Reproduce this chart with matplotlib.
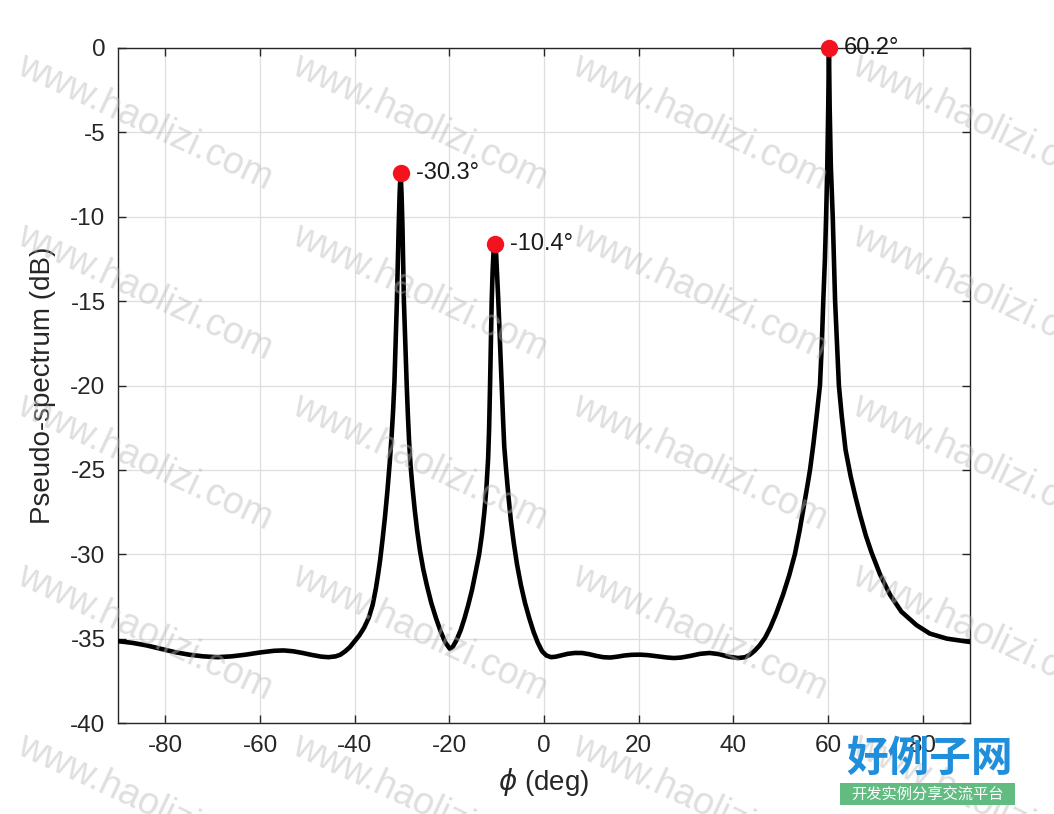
import matplotlib
matplotlib.use("Agg")
import matplotlib.pyplot as plt
from matplotlib.patches import Rectangle

plt.rcParams['font.family'] = ['Liberation Sans', 'DejaVu Sans']
plt.rcParams['mathtext.fontset'] = 'dejavusans'
plt.rcParams['axes.unicode_minus'] = False

# ---- data ----
phi_deg = [-90, -87, -84, -81, -78, -75, -72, -69, -66, -63, -60, -57, -55, -53, -51,
           -49, -47, -45.5, -44, -43, -42, -41, -40, -39, -38, -37, -36.2, -35.5,
           -35.0, -34.6, -34.1, -33.6, -33.1, -32.6, -32.2, -31.9, -31.6, -31.35,
           -31.1, -30.9, -30.7, -30.5, -30.3, -30.1, -29.9, -29.75, -29.6, -29.3,
           -29.0, -28.75, -28.5, -28.2, -27.8, -27.3, -26.8, -26.2, -25.5, -24.7,
           -23.8, -22.8, -21.8, -20.8, -19.9, -19.3, -18.5, -17.6, -16.8, -16.0,
           -15.2, -14.4, -13.7, -13.1, -12.6, -12.15, -11.8, -11.6, -11.42, -11.25,
           -11.05, -10.85, -10.65, -10.4, -10.15, -9.95, -9.65, -9.3, -8.95, -8.65,
           -8.4, -8.0, -7.5, -7.0, -6.4, -5.7, -4.9, -4.0, -3.1, -2.2, -1.3, -0.4,
           0.5, 1.5, 2.5, 3.5, 5.0, 6.5, 8.0, 9.5, 11.0, 12.5, 14.0, 15.5, 17.0,
           18.5, 20.3, 22.0, 24.0, 26.0, 27.5, 29.0, 31.0, 33.0, 35.0, 37.0, 39.0,
           41.0, 42.5, 43.5, 44.5, 45.5, 46.7, 47.8, 49.0, 50.5, 51.8, 53.0, 54.0,
           55.0, 55.7, 56.2, 56.9, 57.6, 58.3, 58.7, 59.0, 59.35, 59.6, 59.85,
           60.05, 60.2, 60.35, 60.6, 61.0, 61.25, 61.5, 61.9, 62.3, 62.9, 63.7,
           64.8, 65.8, 66.8, 68.0, 69.2, 71.0, 73.1, 75.5, 78.7, 81.5, 85.1, 87.5, 90]
spectrum_db = [-35.15, -35.25, -35.4, -35.6, -35.8, -35.95, -36.05, -36.1, -36.05, -35.95,
               -35.82, -35.72, -35.7, -35.75, -35.85,
               -35.97, -36.07, -36.1, -36.05, -35.95, -35.75, -35.5, -35.15, -34.8, -34.35,
               -33.75, -33.0, -32.0,
               -31.1, -30.3, -29.1, -27.8, -26.3, -24.6, -23.0, -21.6, -19.8, -17.6,
               -15.2, -12.8, -10.6, -8.6, -7.4, -8.6, -10.6, -12.8, -15.0, -17.5,
               -20.0, -21.8, -23.3, -24.7, -26.0, -27.4, -28.6, -29.8, -30.9, -31.9,
               -32.9, -33.8, -34.6, -35.25, -35.6, -35.5, -35.1, -34.5, -33.8, -33.0,
               -32.1, -31.0, -30.0, -28.8, -27.5, -26.0, -24.3, -22.6, -20.3, -17.8,
               -15.0, -13.2, -12.0, -11.6, -12.0, -13.2, -15.0, -17.5, -20.0, -22.0,
               -23.6, -25.0, -26.6, -28.0, -29.3, -30.6, -31.8, -32.9, -33.8, -34.6,
               -35.25, -35.75,
               -36.0, -36.1, -36.07, -36.0, -35.9, -35.85, -35.85, -35.92, -36.02, -36.1,
               -36.12, -36.07, -36.0,
               -35.96, -35.95, -35.98, -36.05, -36.12, -36.15, -36.12, -36.02, -35.9,
               -35.85, -35.92, -36.07,
               -36.15, -36.1, -35.95, -35.72, -35.42, -34.95, -34.35, -33.55, -32.4, -31.25,
               -30.0, -28.6,
               -27.0, -25.85, -25.0, -23.5, -21.8, -20.0, -17.5, -15.0, -12.5, -10.0, -7.0,
               -3.5, 0.0, -3.5, -7.0, -10.0, -12.5, -15.0, -17.5, -20.0, -21.8, -23.8,
               -25.4, -26.6, -27.7, -28.9, -29.9, -31.2, -32.4, -33.4, -34.2, -34.7,
               -35.0, -35.1, -35.2]

peak_phi = [-30.3, -10.4, 60.2]
peak_db = [-7.4, -11.6, 0.0]

x_ticks = [-80, -60, -40, -20, 0, 20, 40, 60, 80]
y_ticks = [0, -5, -10, -15, -20, -25, -30, -35, -40]

# ---- figure ----
W, H = 1054, 814
fig = plt.figure(figsize=(W / 100, H / 100), dpi=100)
fig.patch.set_facecolor('white')
ax = fig.add_axes([118 / W, 1 - 723 / H, (970 - 118) / W, (723 - 48) / H])

ax.plot(phi_deg, spectrum_db, color='black', lw=3.3, solid_joinstyle='round', zorder=3)
ax.plot(peak_phi, peak_db, 'o', color='#f5121f', markersize=12.5, markeredgewidth=0,
        clip_on=False, zorder=4)
for p, d in zip(peak_phi, peak_db):
    ax.annotate(f"{p:.1f}°", (p, d), xytext=(11, 0), textcoords='offset points',
                ha='left', va='center', fontsize=17, color='#1a1a1a', zorder=5,
                annotation_clip=False)

ax.set_xlim(-90, 90)
ax.set_ylim(-40, 0)
ax.set_xticks(x_ticks)
ax.set_yticks(y_ticks)
ax.grid(True, color='#dedede', lw=0.9)
ax.set_axisbelow(True)
ax.tick_params(direction='in', length=6, width=1, colors='#262626', labelsize=17.5,
               top=True, right=True, pad=9)
for s in ax.spines.values():
    s.set_color('#262626')
    s.set_linewidth(1.0)

ax.set_xlabel(r'$\phi$ (deg)', fontsize=20, color='#262626', labelpad=6)
ax.set_ylabel('Pseudo-spectrum (dB)', fontsize=20, color='#262626', labelpad=10)

# ---- watermark ----
col_x = [15, 290, 570, 850]
row_y = [45, 215, 385, 555, 725]
for cx in col_x:
    for ry in row_y:
        fig.text(cx / W, 1 - (ry + 28) / H, 'www.haolizi.com', rotation=-25,
                 rotation_mode='anchor', ha='left', va='baseline', fontsize=27,
                 color='#b8b8b8', alpha=0.45, zorder=10)

# ---- logo ----
fig.text(930 / W, 1 - 759 / H, '好例子网', ha='center', va='center', fontsize=30,
         fontweight='bold', color='#1f8fdc', family=['Noto Sans CJK SC'], zorder=11)
fig.patches.append(Rectangle((840 / W, 1 - 805 / H), 175 / W, 22 / H,
                             transform=fig.transFigure, facecolor='#62bb80',
                             edgecolor='none', zorder=11))
fig.text(927 / W, 1 - 794 / H, '开发实例分享交流平台', ha='center', va='center', fontsize=11,
         color='white', family=['Noto Sans CJK SC'], zorder=12)

fig.savefig('out.png', dpi=100)
